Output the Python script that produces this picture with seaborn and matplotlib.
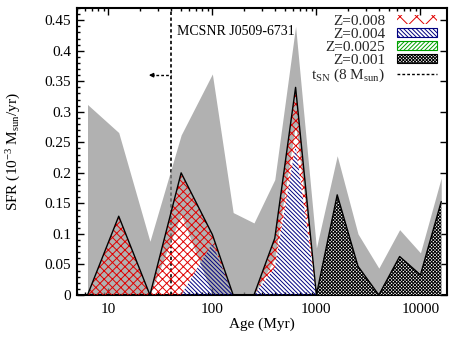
import numpy as np
import pandas as pd
import matplotlib
matplotlib.use("Agg")
import matplotlib.pyplot as plt
import seaborn as sns
from matplotlib.patches import Patch
from matplotlib.lines import Line2D
from matplotlib.ticker import (MultipleLocator, FuncFormatter, FixedLocator,
                               FixedFormatter, LogLocator, NullFormatter)

# ---------------- data ----------------
log_age = [6.8, 7.1, 7.4, 7.7, 8.0, 8.2, 8.4, 8.6, 8.8, 9.0, 9.2, 9.4, 9.6, 9.8, 10.0, 10.2]
sfr_z0008 = [0.0, 0.129, 0.0, 0.200, 0.014, 0.0, 0.0, 0.048, 0.095, 0.0, 0.0, 0.0, 0.0, 0.0, 0.0, 0.0]
sfr_z0004 = [0.0, 0.0, 0.0, 0.0, 0.085, 0.0, 0.0, 0.045, 0.245, 0.0, 0.0, 0.0, 0.0, 0.0, 0.0, 0.0]
sfr_z00025 = [0.0, 0.0, 0.0, 0.0, 0.0, 0.0, 0.0, 0.0, 0.0, 0.0, 0.0, 0.0, 0.0, 0.0, 0.0, 0.0]
sfr_z0001 = [0.0, 0.0, 0.0, 0.0, 0.0, 0.0, 0.0, 0.0, 0.0, 0.0, 0.164, 0.047, 0.0, 0.063, 0.033, 0.153]
sfr_err_hi = [0.312, 0.266, 0.088, 0.262, 0.362, 0.135, 0.118, 0.189, 0.440, 0.077, 0.228, 0.100, 0.044, 0.107, 0.069, 0.192]
sfr_err_lo = [0.0, 0.0, 0.0, 0.132, 0.0, 0.0, 0.0, 0.060, 0.280, 0.0, 0.0, 0.0, 0.0, 0.0, 0.0, 0.0]

legend_labels = ["Z=0.008", "Z=0.004", "Z=0.0025", "Z=0.001",
                 r"$\mathrm{t_{SN}}$ (8 $\mathrm{M_{sun}}$)"]
xtick_values = [10, 100, 1000, 10000]
xtick_labels = ["10", "100", "1000", "10000"]
t_sn_myr = 40.0
snr_name = "MCSNR J0509-6731"

# ---------------- style ----------------
sns.set_theme(style="ticks")
plt.rcParams["font.family"] = ["Liberation Serif", "DejaVu Serif"]
plt.rcParams["mathtext.fontset"] = "custom"
plt.rcParams["mathtext.rm"] = "Liberation Serif"
plt.rcParams["mathtext.it"] = "Liberation Serif:italic"
plt.rcParams["mathtext.bf"] = "Liberation Serif:bold"
plt.rcParams["hatch.linewidth"] = 0.7

RED = "#e00000"
BLUE = "#000080"
GREEN = "#00a000"
GRAY = (0.565, 0.565, 0.565)
H_RED = "xxxx"
H_BLUE = "\\" * 8
H_GREEN = "/" * 8
H_BLACK = "x" * 10

df = pd.DataFrame({
    "age": 10 ** (np.array(log_age) - 6.0),
    "z0008": sfr_z0008, "z0004": sfr_z0004,
    "z00025": sfr_z00025, "z0001": sfr_z0001,
    "hi": sfr_err_hi, "lo": sfr_err_lo,
})
c1 = df["z0001"]
c2 = c1 + df["z00025"]
c3 = c2 + df["z0004"]
c4 = c3 + df["z0008"]
df["total"] = c4

fig = plt.figure(figsize=(4.53, 3.40), dpi=100)
ax = fig.add_axes([77 / 453, 45 / 340, 370 / 453, 287 / 340])

ax.axvline(t_sn_myr, color="black", lw=1.2, ls=(0, (2, 1.5)), zorder=1)
ax.fill_between(df["age"], df["lo"], df["hi"], facecolor=GRAY, alpha=0.7, lw=0, zorder=2)
ax.fill_between(df["age"], 0, c1, facecolor="white", edgecolor="black", hatch=H_BLACK, lw=0, zorder=3)
ax.fill_between(df["age"], c1, c2, facecolor="none", edgecolor=GREEN, hatch=H_GREEN, lw=0, zorder=3)
ax.fill_between(df["age"], c2, c3, facecolor="none", edgecolor=BLUE, hatch=H_BLUE, lw=0, zorder=3)
ax.fill_between(df["age"], c3, c4, facecolor="none", edgecolor=RED, hatch=H_RED, lw=0, zorder=3)
sns.lineplot(data=df, x="age", y="total", color="black", lw=1.0, ax=ax, zorder=4)

arrow_y = 0.36
ax.plot([26, t_sn_myr], [arrow_y, arrow_y], color="black", lw=1.0, ls=(0, (2, 1.5)), zorder=5)
ax.annotate("", xy=(24.5, arrow_y), xytext=(27.5, arrow_y),
            arrowprops=dict(arrowstyle="-|>", color="black", lw=1.0,
                            mutation_scale=6, shrinkA=0, shrinkB=0), zorder=5)
ax.text(45.5, 0.431, snr_name, fontsize=10, va="center", ha="left", color="black")

ax.set_xscale("log")
ax.set_xlim(5, 18000)
ax.set_ylim(0, 0.47)
ax.xaxis.set_major_locator(FixedLocator(xtick_values))
ax.xaxis.set_major_formatter(FixedFormatter(xtick_labels))
ax.xaxis.set_minor_locator(LogLocator(base=10, subs=np.arange(2, 10)))
ax.xaxis.set_minor_formatter(NullFormatter())
ax.yaxis.set_major_locator(MultipleLocator(0.05))
ax.yaxis.set_minor_locator(MultipleLocator(0.01))
ax.yaxis.set_major_formatter(FuncFormatter(lambda v, p: ("%.2f" % v).rstrip("0").rstrip(".")))
ax.tick_params(which="both", direction="in", top=True, right=True, color="black", width=1.0)
ax.tick_params(which="major", length=5, labelsize=11, labelcolor="black")
ax.tick_params(which="minor", length=2.5)
ax.tick_params(axis="y", which="minor", right=False)
ax.tick_params(axis="x", which="major", pad=6)
ax.tick_params(axis="y", which="major", pad=4)
for s in ax.spines.values():
    s.set_linewidth(1.5)
    s.set_color("black")
    s.set_visible(True)
ax.grid(False)

ax.set_xlabel("Age (Myr)", fontsize=11, color="black", labelpad=1)
ax.set_ylabel(r"SFR ($\mathrm{10^{-3}\ M_{sun}}$/yr)", fontsize=11, color="black", labelpad=16)

handles = [
    Patch(facecolor="none", edgecolor=RED, hatch="xx", lw=0),
    Patch(facecolor="white", edgecolor=BLUE, hatch=H_BLUE, lw=0.8),
    Patch(facecolor="white", edgecolor=GREEN, hatch=H_GREEN, lw=0.8),
    Patch(facecolor="white", edgecolor="black", hatch=H_BLACK, lw=0.8),
    Line2D([], [], color="black", lw=1.0, ls=(0, (2, 1.5))),
]
leg = ax.legend(handles, legend_labels, loc="upper right",
                bbox_to_anchor=((437 - 77) / 370, (295 - 15) / 287),
                frameon=False, fontsize=11, markerfirst=False,
                handlelength=2.6, handleheight=0.5, handletextpad=0.8,
                labelspacing=0.0, borderpad=0, borderaxespad=0)

fig.savefig("out.png", dpi=100)
